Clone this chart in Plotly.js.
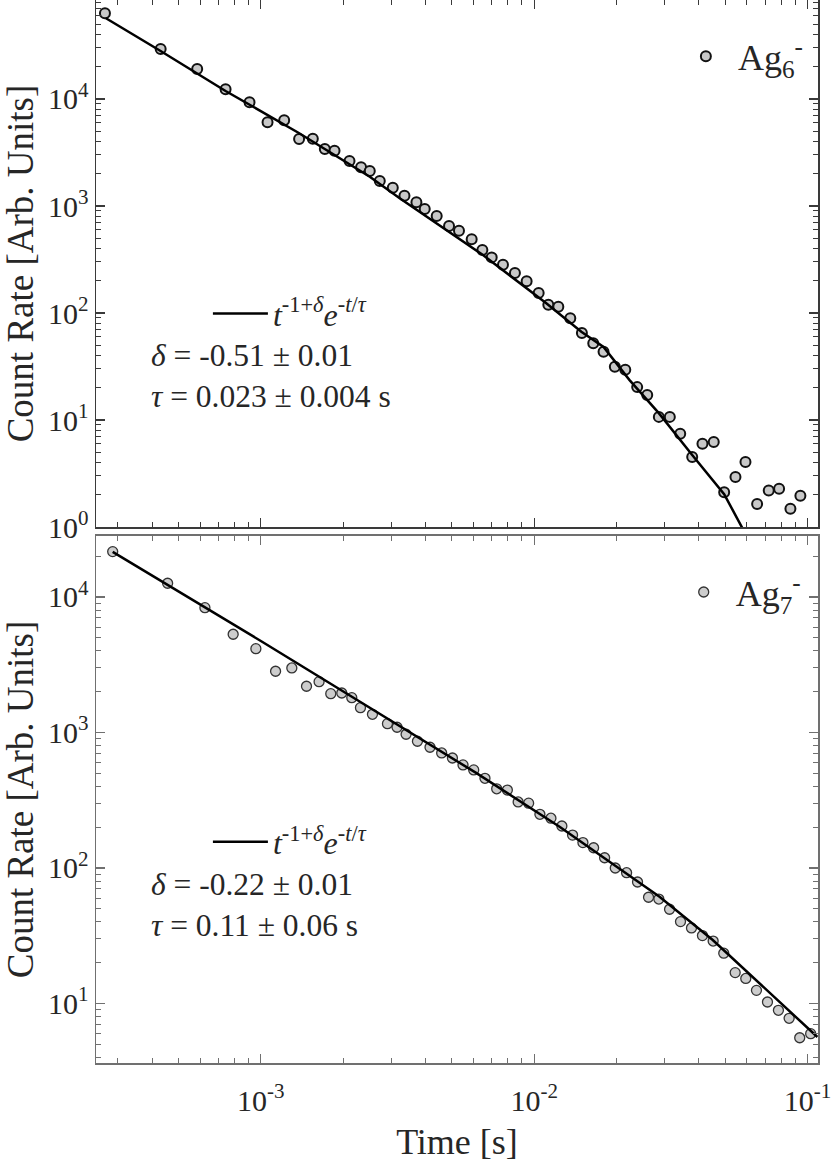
<!DOCTYPE html>
<html>
<head>
<meta charset="utf-8">
<script src="https://cdn.plot.ly/plotly-3.0.1.min.js"></script>
<style>
  body { margin: 0; background: #fff; }
  #plot { width: 831px; height: 1166px; }
</style>
</head>
<body>
<div id="plot"></div>
<script>
// ---- Ag6- (top panel) ----
const ag6Time = [2.69e-4, 4.30e-4, 5.85e-4, 7.43e-4, 9.09e-4, 1.058e-3, 1.217e-3, 1.380e-3, 1.549e-3, 1.714e-3,
  1.860e-3, 2.110e-3, 2.326e-3, 2.503e-3, 2.723e-3, 3.038e-3, 3.352e-3, 3.707e-3, 3.976e-3, 4.398e-3,
  4.879e-3, 5.306e-3, 5.904e-3, 6.461e-3, 6.988e-3, 7.685e-3, 8.50e-3, 9.38e-3, 1.038e-2, 1.126e-2,
  1.225e-2, 1.355e-2, 1.494e-2, 1.644e-2, 1.793e-2, 1.972e-2, 2.153e-2, 2.380e-2, 2.590e-2, 2.856e-2,
  3.133e-2, 3.420e-2, 3.783e-2, 4.124e-2, 4.536e-2, 4.952e-2, 5.446e-2, 5.925e-2, 6.536e-2, 7.208e-2,
  7.865e-2, 8.652e-2, 9.41e-2];
const ag6Rate = [63200, 29300, 19100, 12320, 9310, 6060, 6320, 4230, 4260, 3410,
  3290, 2634, 2300, 2124, 1713, 1483, 1249, 1083, 937, 806,
  650, 588, 488, 388, 331, 283, 236, 198, 154, 119.6,
  114.5, 89.2, 65.0, 52.1, 43.5, 31.5, 29.5, 20.3, 17.1, 10.7,
  10.7, 7.45, 4.51, 6.00, 6.23, 2.11, 2.93, 4.05, 1.64, 2.20,
  2.28, 1.48, 1.96];
// fit curve
const ag6FitTime = [2.713e-4, 4.298e-4, 7.43e-4, 1.377e-3, 2.503e-3, 3.221e-3, 6.494e-3, 1.107e-2,
  1.487e-2, 1.793e-2, 2.232e-2, 2.856e-2, 3.783e-2, 4.952e-2, 5.875e-2];
const ag6FitRate = [56800, 28100, 11880, 4810, 1878, 1180, 348, 123.2,
  66.9, 48.1, 23.6, 11.6, 4.71, 2.03, 0.898];

// ---- Ag7- (bottom panel) ----
const ag7Time = [2.871e-4, 4.560e-4, 6.243e-4, 7.92e-4, 9.59e-4, 1.132e-3, 1.298e-3, 1.469e-3, 1.633e-3, 1.802e-3,
  1.977e-3, 2.151e-3, 2.314e-3, 2.560e-3, 2.905e-3, 3.149e-3, 3.398e-3, 3.739e-3, 4.157e-3, 4.586e-3,
  5.021e-3, 5.489e-3, 6.007e-3, 6.604e-3, 7.289e-3, 7.974e-3, 8.733e-3, 9.539e-3, 1.049e-2, 1.151e-2,
  1.262e-2, 1.381e-2, 1.507e-2, 1.649e-2, 1.809e-2, 1.979e-2, 2.177e-2, 2.387e-2, 2.619e-2, 2.856e-2,
  3.126e-2, 3.428e-2, 3.760e-2, 4.124e-2, 4.513e-2, 4.935e-2, 5.433e-2, 5.94e-2, 6.499e-2, 7.131e-2,
  7.82e-2, 8.559e-2, 9.357e-2, 0.1026];
const ag7Rate = [21600, 12620, 8340, 5305, 4155, 2830, 2992, 2193, 2371, 1933,
  1956, 1806, 1524, 1362, 1161, 1093, 970, 861, 778, 706,
  648, 576, 529, 459, 384, 376, 307, 301, 249, 233,
  204, 175, 154, 141, 119, 100, 92.3, 78.8, 60.8, 59.0,
  49.6, 40.2, 36.1, 31.7, 28.9, 23.5, 16.9, 15.3, 12.5, 10.26,
  8.91, 7.78, 5.59, 5.99];
const ag7FitTime = [2.871e-4, 1.014e-3, 1.989e-3, 6.108e-3, 1.238e-2, 1.979e-2, 2.873e-2, 4.498e-2, 7.053e-2, 0.1086];
const ag7FitRate = [21490, 4655, 2025, 505, 201.7, 103.5, 61.4, 29.4, 12.58, 5.66];

// ---- labels ----
const ag6Label = '\u00a0\u200aAg<sub>6</sub><sup>-</sup>';
const ag7Label = '\u00a0\u200aAg<sub>7</sub><sup>-</sup>';
const fitLabel = '<i>t</i><sup>-1+<i>δ</i></sup><i>e</i><sup>-<i>t</i>/<i>τ</i></sup>';
const ag6Params = '<i>δ</i> = -0.51 ± 0.01<br><i>τ</i> = 0.023 ± 0.004 s';
const ag7Params = '<i>δ</i> = -0.22 ± 0.01<br><i>τ</i> = 0.11 ± 0.06 s';

const xTickVals = [1e-3, 1e-2, 1e-1];
const xTickText = ['10<sup>-3</sup>', '10<sup>-2</sup>', '10<sup>-1</sup>'];
const yTickVals = [1, 10, 100, 1000, 10000];
const yTickText = ['10<sup>0</sup>', '10<sup>1</sup>', '10<sup>2</sup>', '10<sup>3</sup>', '10<sup>4</sup>'];

// =========================
// Layout helpers
// =========================
const FONT = '"Liberation Serif", "Times New Roman", "DejaVu Serif", serif';
const TXT = '#262626';

function minorTicks(d0, d1) {
  const v = [];
  for (let d = d0; d <= d1; d++) {
    for (let k = 2; k <= 9; k++) v.push(k * Math.pow(10, d));
  }
  return v;
}

function logAxis(lineColor, extra) {
  return Object.assign({
    type: 'log',
    showgrid: false,
    zeroline: false,
    showline: true,
    linecolor: lineColor,
    linewidth: 1.5,
    mirror: 'ticks',
    ticks: 'inside',
    ticklen: 9,
    tickwidth: 1.2,
    tickcolor: lineColor,
    tickmode: 'array',
    ticklabeloverflow: 'allow',
    tickfont: { family: FONT, size: 30, color: TXT }
  }, extra);
}

const topColor = '#3a3a3a';
const botColor = '#707070';

const data = [
  {
    type: 'scatter', mode: 'markers',
    x: ag6Time, y: ag6Rate, xaxis: 'x2', yaxis: 'y2',
    name: ag6Label, legend: 'legend',
    marker: { size: 10, color: '#c8c8c8', line: { color: '#111', width: 2 } }
  },
  {
    type: 'scatter', mode: 'lines',
    x: ag6FitTime, y: ag6FitRate, xaxis: 'x2', yaxis: 'y2',
    name: fitLabel, legend: 'legend2',
    line: { color: '#000', width: 2.5 }
  },
  {
    type: 'scatter', mode: 'markers',
    x: ag7Time, y: ag7Rate, xaxis: 'x', yaxis: 'y',
    name: ag7Label, legend: 'legend3',
    marker: { size: 10, color: '#cdcdcd', line: { color: '#333', width: 1.3 } }
  },
  {
    type: 'scatter', mode: 'lines',
    x: ag7FitTime, y: ag7FitRate, xaxis: 'x', yaxis: 'y',
    name: fitLabel, legend: 'legend4',
    line: { color: '#000', width: 2.5 }
  }
];

function legendBox(x, y, size) {
  return {
    x: x, y: y, xanchor: 'left', yanchor: 'middle',
    bgcolor: 'rgba(0,0,0,0)', borderwidth: 0,
    font: { family: FONT, size: size, color: TXT },
    itemclick: false
  };
}

function minorOf(color, vals) {
  return { tickvals: vals, ticks: 'inside', ticklen: 5, tickwidth: 1, tickcolor: color };
}

const layout = {
  width: 831,
  height: 1166,
  paper_bgcolor: '#fff',
  plot_bgcolor: '#fff',
  margin: { l: 96, r: 13, t: 0, b: 103 },
  font: { family: FONT, color: TXT },
  showlegend: true,
  xaxis: logAxis(botColor, {
    anchor: 'y', range: [-3.603, -0.962],
    tickvals: xTickVals, ticktext: xTickText,
    ticklabelstandoff: 10,
    minor: minorOf(botColor, minorTicks(-4, -1)),
    title: { text: 'Time [s]', font: { family: FONT, size: 36, color: TXT }, standoff: 13 }
  }),
  xaxis2: logAxis(topColor, {
    anchor: 'y2', matches: 'x', range: [-3.603, -0.962],
    tickvals: xTickVals, showticklabels: false,
    minor: minorOf(topColor, minorTicks(-4, -1))
  }),
  yaxis: logAxis(botColor, {
    anchor: 'x', domain: [0, 0.4958], range: [0.561, 4.450],
    tickvals: yTickVals, ticktext: yTickText,
    minor: minorOf(botColor, minorTicks(0, 4)),
    title: { text: 'Count Rate [Arb. Units]', font: { family: FONT, size: 37, color: TXT }, standoff: 25 }
  }),
  yaxis2: logAxis(topColor, {
    anchor: 'x2', domain: [0.5042, 1], range: [0, 4.925],
    tickvals: yTickVals, ticktext: yTickText,
    minor: minorOf(topColor, minorTicks(0, 4)),
    title: { text: 'Count Rate [Arb. Units]', font: { family: FONT, size: 37, color: TXT }, standoff: 25 }
  }),
  legend: legendBox(0.817, 0.947, 36),
  legend2: Object.assign(legendBox(0.155, 0.705, 32), { itemwidth: 55 }),
  legend3: legendBox(0.814, 0.443, 36),
  legend4: Object.assign(legendBox(0.155, 0.208, 32), { itemwidth: 55 }),
  annotations: [
    {
      xref: 'paper', yref: 'paper', x: 0.073, y: 0.646,
      xanchor: 'left', yanchor: 'middle', align: 'left', showarrow: false,
      text: ag6Params, font: { family: FONT, size: 31.5, color: TXT }
    },
    {
      xref: 'paper', yref: 'paper', x: 0.073, y: 0.1486,
      xanchor: 'left', yanchor: 'middle', align: 'left', showarrow: false,
      text: ag7Params, font: { family: FONT, size: 31.5, color: TXT }
    }
  ]
};

Plotly.newPlot('plot', data, layout, { staticPlot: true });
</script>
</body>
</html>
